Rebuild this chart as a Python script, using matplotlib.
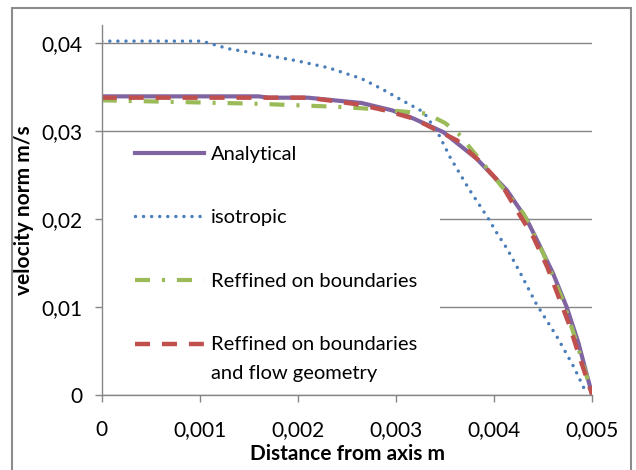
import numpy as np
import matplotlib
matplotlib.use("Agg")
import matplotlib.pyplot as plt
from matplotlib.patches import Rectangle
from matplotlib.ticker import FuncFormatter
from matplotlib.legend_handler import HandlerLine2D

# values (distance from axis m, velocity m/s)
x_analytical = [0, 0.0016, 0.0017, 0.0021, 0.00265, 0.00296, 0.00318, 0.00348, 0.00382,
                0.00413, 0.00433, 0.0044, 0.00447, 0.0046, 0.00474, 0.00486, 0.00494, 0.005]
v_analytical = [0.0339, 0.0339, 0.03375, 0.03375, 0.03314, 0.03231, 0.03137, 0.02985, 0.02683,
                0.02324, 0.01995, 0.0184, 0.01681, 0.0138, 0.00994, 0.00586, 0.00246, 0.0]

x_isotropic = [0, 0.00102, 0.00129, 0.00163, 0.00197, 0.00231, 0.00265, 0.00285, 0.00306,
               0.00328, 0.00343, 0.00355, 0.00374, 0.00394, 0.00403, 0.00413, 0.00426,
               0.00443, 0.00464, 0.00481, 0.00494]
v_isotropic = [0.04017, 0.04017, 0.03931, 0.03866, 0.03798, 0.03715, 0.0359, 0.03477, 0.03345,
               0.03212, 0.02967, 0.0270, 0.02343, 0.02003, 0.01833, 0.01663, 0.01398,
               0.01032, 0.00661, 0.00321, 0.0002]

x_boundaries = [0, 0.00156, 0.00201, 0.00245, 0.00285, 0.00331, 0.0035, 0.003635, 0.003958,
                0.004298, 0.0045, 0.004706, 0.004842, 0.004944, 0.005]
v_boundaries = [0.03345, 0.03307, 0.03288, 0.03269, 0.0324, 0.03194, 0.03087, 0.02967, 0.02532,
                0.0206, 0.01607, 0.01058, 0.00586, 0.00207, 0.0]

x_geometry = [0, 0.0021, 0.00231, 0.00261, 0.00289, 0.00318, 0.00335, 0.00362, 0.00386,
              0.00408, 0.00423, 0.0044, 0.00454, 0.00465, 0.00476, 0.00488, 0.005]
v_geometry = [0.03375, 0.03375, 0.03345, 0.03299, 0.03231, 0.03137, 0.03042, 0.02891, 0.02645,
              0.02381, 0.02098, 0.0179, 0.01455, 0.01134, 0.00813, 0.00397, 0.0]

x_ticks = [0, 0.001, 0.002, 0.003, 0.004, 0.005]
y_ticks = [0, 0.01, 0.02, 0.03, 0.04]

labels = ["Analytical", "isotropic", "Reffined on boundaries",
          "Reffined on boundaries\nand flow geometry"]

GREY = "#868686"


class FirstLineHandler(HandlerLine2D):
    # put the legend line next to the first line of a two-line label
    def create_artists(self, legend, orig_handle, xdescent, ydescent, width, height, fontsize, trans):
        artists = super().create_artists(legend, orig_handle, xdescent, ydescent,
                                         width, height, fontsize, trans)
        for a in artists:
            a.set_ydata(np.asarray(a.get_ydata()) + 0.77 * fontsize)
        return artists


def comma(v, pos):
    return ("%g" % round(v, 6)).replace(".", ",")


def main():
    plt.rcParams['font.family'] = ['Lato', 'DejaVu Sans']
    plt.rcParams['lines.scale_dashes'] = False

    fig = plt.figure(figsize=(6.36, 4.70), dpi=100)
    ax = fig.add_axes([0.16, 0.1596, 0.7713, 0.7872])

    l1, = ax.plot(x_analytical, v_analytical, color="#8064A2", lw=3, label=labels[0], zorder=2)
    l2, = ax.plot(x_isotropic, v_isotropic, color="#4A7EBB", lw=2.5, label=labels[1],
                  linestyle=(0, (0.01, 5.8)), dash_capstyle="round", zorder=2)
    l3, = ax.plot(x_boundaries, v_boundaries, color="#9BBB59", lw=3, label=labels[2],
                  linestyle=(0, (10.8, 8.6, 2.2, 8.6)), zorder=2)
    l4, = ax.plot(x_geometry, v_geometry, color="#C0504D", lw=3.2, label=labels[3],
                  linestyle=(0, (10.8, 8.6)), zorder=2)

    ax.set_xlim(0, 0.005)
    ax.set_ylim(0, 0.042)
    ax.set_xticks(x_ticks)
    ax.set_yticks(y_ticks)
    ax.xaxis.set_major_formatter(FuncFormatter(comma))
    ax.yaxis.set_major_formatter(FuncFormatter(comma))
    ax.tick_params(axis="both", direction="out", length=5, width=1, color=GREY, labelsize=15)
    ax.tick_params(axis="x", pad=13)
    ax.tick_params(axis="y", pad=9)

    ax.set_axisbelow(True)
    ax.grid(axis="y", color=GREY, lw=1)
    for side in ["top", "right"]:
        ax.spines[side].set_visible(False)
    for side in ["left", "bottom"]:
        ax.spines[side].set_color(GREY)
        ax.spines[side].set_linewidth(1)

    ax.set_xlabel("Distance from axis m", fontsize=15, fontweight="bold", labelpad=3)
    ax.set_ylabel("velocity norm m/s", fontsize=15, fontweight="bold", labelpad=5)

    # white area behind the legend hides the gridlines
    ax.add_patch(Rectangle((0, 0.003), 0.69, 0.697, transform=ax.transAxes,
                           facecolor="white", edgecolor="none", zorder=1))

    leg = ax.legend(handles=[l1, l2, l3, l4], loc="upper left", bbox_to_anchor=(0.068, 0.674),
                    frameon=False, fontsize=14.5, borderpad=0, borderaxespad=0,
                    handlelength=3.4, handletextpad=0.35, labelspacing=2.3,
                    handler_map={l4: FirstLineHandler()})
    for t in leg.get_texts():
        t.set_linespacing(1.9)

    # chart area border
    fig.add_artist(Rectangle((12 / 636, -0.05), 619 / 636, 1.05 - 8 / 470,
                             transform=fig.transFigure, fill=False,
                             edgecolor="#8c8c8c", lw=1.5, clip_on=False))

    fig.savefig("out.png", dpi=100)


if __name__ == "__main__":
    main()
